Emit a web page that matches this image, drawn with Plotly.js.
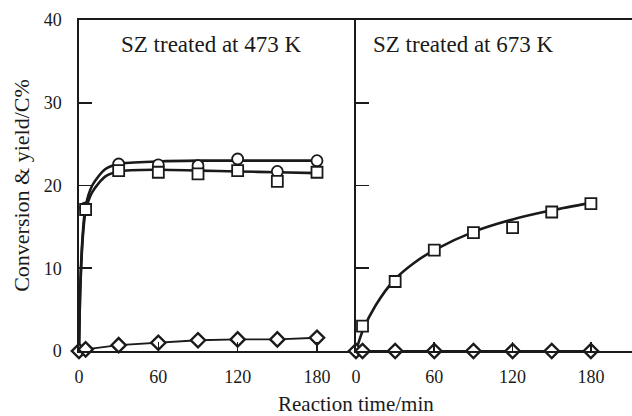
<!DOCTYPE html>
<html>
<head>
<meta charset="utf-8">
<script src="https://cdn.plot.ly/plotly-3.0.1.min.js"></script>
<style>html,body{margin:0;padding:0;background:#fff;}#chart{width:632px;height:416px;}</style>
</head>
<body>
<div id="chart"></div>
<script>
// ---- data ----
// Left panel: SZ treated at 473 K
const timeLeft = [5, 30, 60, 90, 120, 150, 180];
const circlesLeft = [17.3, 22.6, 22.5, 22.4, 23.2, 21.7, 23.0];
const squaresLeft = [17.1, 21.8, 21.6, 21.4, 21.8, 20.5, 21.6];
const timeDiamondLeft = [0, 5, 30, 60, 90, 120, 150, 180];
const diamondsLeft = [0, 0.2, 0.7, 1.0, 1.3, 1.4, 1.4, 1.6];
// fitted curves (left)
const fitTimeLeft = [0, 1, 3, 5, 10, 20, 30, 60, 90, 120, 150, 180];
const fitCircleLeft = [0, 8, 14.5, 17.5, 20.0, 22.0, 22.6, 22.9, 23.0, 23.0, 23.0, 23.0];
const fitSquareLeft = [0, 7.5, 14, 16.9, 19.2, 21.1, 21.7, 21.9, 21.8, 21.7, 21.6, 21.5];

// Right panel: SZ treated at 673 K
const timeRight = [5, 30, 60, 90, 120, 150, 180];
const squaresRight = [3.0, 8.4, 12.2, 14.3, 14.9, 16.8, 17.8];
const timeDiamondRight = [0, 5, 30, 60, 90, 120, 150, 180];
const diamondsRight = [0, 0, 0, 0, 0, 0, 0, 0];
const fitTimeRight = [0, 5, 15, 30, 45, 60, 90, 120, 150, 180];
const fitSquareRight = [0, 2.4, 5.5, 8.7, 10.7, 12.2, 14.4, 15.9, 17.0, 17.9];

const yTicks = [0, 10, 20, 30, 40];
const xTicks = [0, 60, 120, 180];
const panelLabels = ["SZ treated at 473 K", "SZ treated at 673 K"];
const xTitle = "Reaction time/min";
const yTitle = "Conversion &amp; yield/C%";

const ink = "#1a1a1a";
const FONT = "Liberation Serif";

function fitLine(x, y, xa, ya) {
  return {x: x, y: y, xaxis: xa, yaxis: ya, mode: "lines", type: "scatter",
    line: {color: ink, width: 2.6, shape: "spline", smoothing: 0.8}, hoverinfo: "skip"};
}
function markers(x, y, xa, ya, sym, size, lw, withLine) {
  return {x: x, y: y, xaxis: xa, yaxis: ya, type: "scatter",
    mode: withLine ? "lines+markers" : "markers",
    line: {color: ink, width: 1.8},
    marker: {symbol: sym, size: size, color: "#fff", line: {color: ink, width: lw}},
    cliponaxis: false};
}

const traces = [
  fitLine(fitTimeLeft, fitCircleLeft, "x", "y"),
  fitLine(fitTimeLeft, fitSquareLeft, "x", "y"),
  markers(timeDiamondLeft, diamondsLeft, "x", "y", "diamond", 11, 2.4, true),
  markers(timeLeft, circlesLeft, "x", "y", "circle", 11, 1.8, false),
  markers(timeLeft, squaresLeft, "x", "y", "square", 11, 1.8, false),
  fitLine(fitTimeRight, fitSquareRight, "x2", "y2"),
  markers(timeDiamondRight, diamondsRight, "x2", "y2", "diamond", 11, 2.4, true),
  markers(timeRight, squaresRight, "x2", "y2", "square", 11, 1.8, false)
];

const split = (356 - 79) / (632 - 79);
const axisCommon = {
  showgrid: false, zeroline: false, showline: true, linecolor: ink, linewidth: 1.6,
  ticks: "inside", tickcolor: ink, tickwidth: 1.6,
  tickfont: {family: FONT, size: 18, color: ink}
};

const layout = {
  width: 632, height: 416,
  margin: {l: 79, r: 0, t: 20, b: 65},
  paper_bgcolor: "#fff", plot_bgcolor: "#fff",
  showlegend: false,
  font: {family: FONT, color: ink},
  xaxis: Object.assign({}, axisCommon, {
    domain: [0, split], range: [0, 209.5], tickvals: xTicks, ticklen: 9,
    mirror: true, anchor: "y", ticklabelstandoff: 9
  }),
  yaxis: Object.assign({}, axisCommon, {
    domain: [0, 1], range: [0, 40], tickvals: yTicks, ticklen: 13,
    anchor: "x", ticklabelstandoff: 12,
    title: {text: yTitle, font: {family: FONT, size: 22, color: ink}, standoff: 8}
  }),
  xaxis2: Object.assign({}, axisCommon, {
    domain: [split, 1], range: [0, 211.5], tickvals: xTicks, ticklen: 9,
    mirror: true, anchor: "y2", ticklabelstandoff: 9
  }),
  yaxis2: Object.assign({}, axisCommon, {
    domain: [0, 1], range: [0, 40], tickvals: yTicks, ticklen: 13,
    anchor: "x2", showticklabels: false
  }),
  annotations: [
    {text: panelLabels[0], xref: "x", yref: "y", x: 100, y: 37, showarrow: false,
     font: {family: FONT, size: 23, color: ink}},
    {text: panelLabels[1], xref: "x2", yref: "y2", x: 82, y: 37, showarrow: false,
     font: {family: FONT, size: 23, color: ink}},
    {text: xTitle, xref: "paper", yref: "paper", x: 0.5, y: 0, yshift: -53,
     xanchor: "center", yanchor: "middle", showarrow: false,
     font: {family: FONT, size: 21, color: ink}}
  ]
};

Plotly.newPlot("chart", traces, layout, {staticPlot: true, displayModeBar: false});
</script>
</body>
</html>
